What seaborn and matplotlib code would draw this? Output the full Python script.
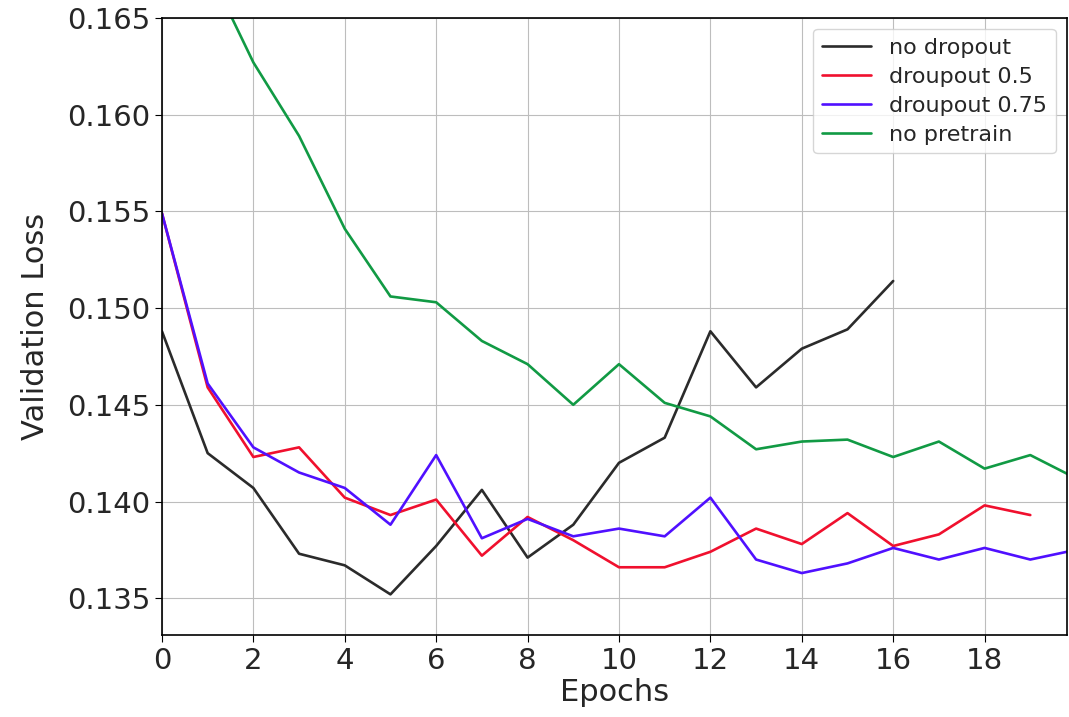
import numpy as np
import pandas as pd
import matplotlib
matplotlib.use("Agg")
import matplotlib.pyplot as plt
import seaborn as sns

# values
no_dropout = [0.1488, 0.1425, 0.1407, 0.1373, 0.1367, 0.1352, 0.1377, 0.1406,
              0.1371, 0.1388, 0.1420, 0.1433, 0.1488, 0.1459, 0.1479, 0.1489, 0.1514]
dropout_05 = [0.1549, 0.1459, 0.1423, 0.1428, 0.1402, 0.1393, 0.1401, 0.1372,
              0.1392, 0.1380, 0.1366, 0.1366, 0.1374, 0.1386, 0.1378, 0.1394,
              0.1377, 0.1383, 0.1398, 0.1393]
dropout_075 = [0.1549, 0.1461, 0.1428, 0.1415, 0.1407, 0.1388, 0.1424, 0.1381,
               0.1391, 0.1382, 0.1386, 0.1382, 0.1402, 0.1370, 0.1363, 0.1368,
               0.1376, 0.1370, 0.1376, 0.1370, 0.1375]
no_pretrain = [0.1780, 0.1676, 0.1627, 0.1589, 0.1541, 0.1506, 0.1503, 0.1483,
               0.1471, 0.1450, 0.1471, 0.1451, 0.1444, 0.1427, 0.1431, 0.1432,
               0.1423, 0.1431, 0.1417, 0.1424, 0.1412]

series = {
    "no dropout": no_dropout,
    "droupout 0.5": dropout_05,
    "droupout 0.75": dropout_075,
    "no pretrain": no_pretrain,
}
colors = ["#2b2b2b", "#f0102e", "#5010ff", "#119a44"]

rows = []
for name, vals in series.items():
    for ep, v in enumerate(vals):
        rows.append({"Epochs": ep, "loss": v, "run": name})
df = pd.DataFrame(rows)

sns.set_style("whitegrid", {"axes.edgecolor": "black", "grid.color": "#bdbdbd"})
plt.rcParams["font.family"] = ["DejaVu Sans"]

fig = plt.figure(figsize=(10.69, 7.17), dpi=100)
ax = fig.add_axes([0.1515, 0.1144, 0.8465, 0.8606])

sns.lineplot(data=df, x="Epochs", y="loss", hue="run", palette=colors,
             linewidth=1.9, ax=ax)

ax.set_xlim(0, 19.8)
ax.set_ylim(0.1331, 0.165)
ax.set_xticks(np.arange(0, 20, 2))
yt = np.arange(0.135, 0.1651, 0.005)
ax.set_yticks(yt)
ax.set_yticklabels(["%.3f" % t for t in yt])
ax.tick_params(axis="both", labelsize=21, length=5, color="black",
               bottom=True, left=True)
ax.set_xlabel("Epochs", fontsize=22, labelpad=2)
ax.set_ylabel("Validation Loss", fontsize=22, labelpad=12)
for s in ax.spines.values():
    s.set_linewidth(1.2)
    s.set_color("black")

leg = ax.legend(loc="upper right", fontsize=16, title=None, frameon=True,
                handlelength=2.2, handletextpad=0.8, borderpad=0.4,
                labelspacing=0.4)
for line in leg.get_lines():
    line.set_linewidth(1.9)

fig.savefig("out.png", dpi=100)
